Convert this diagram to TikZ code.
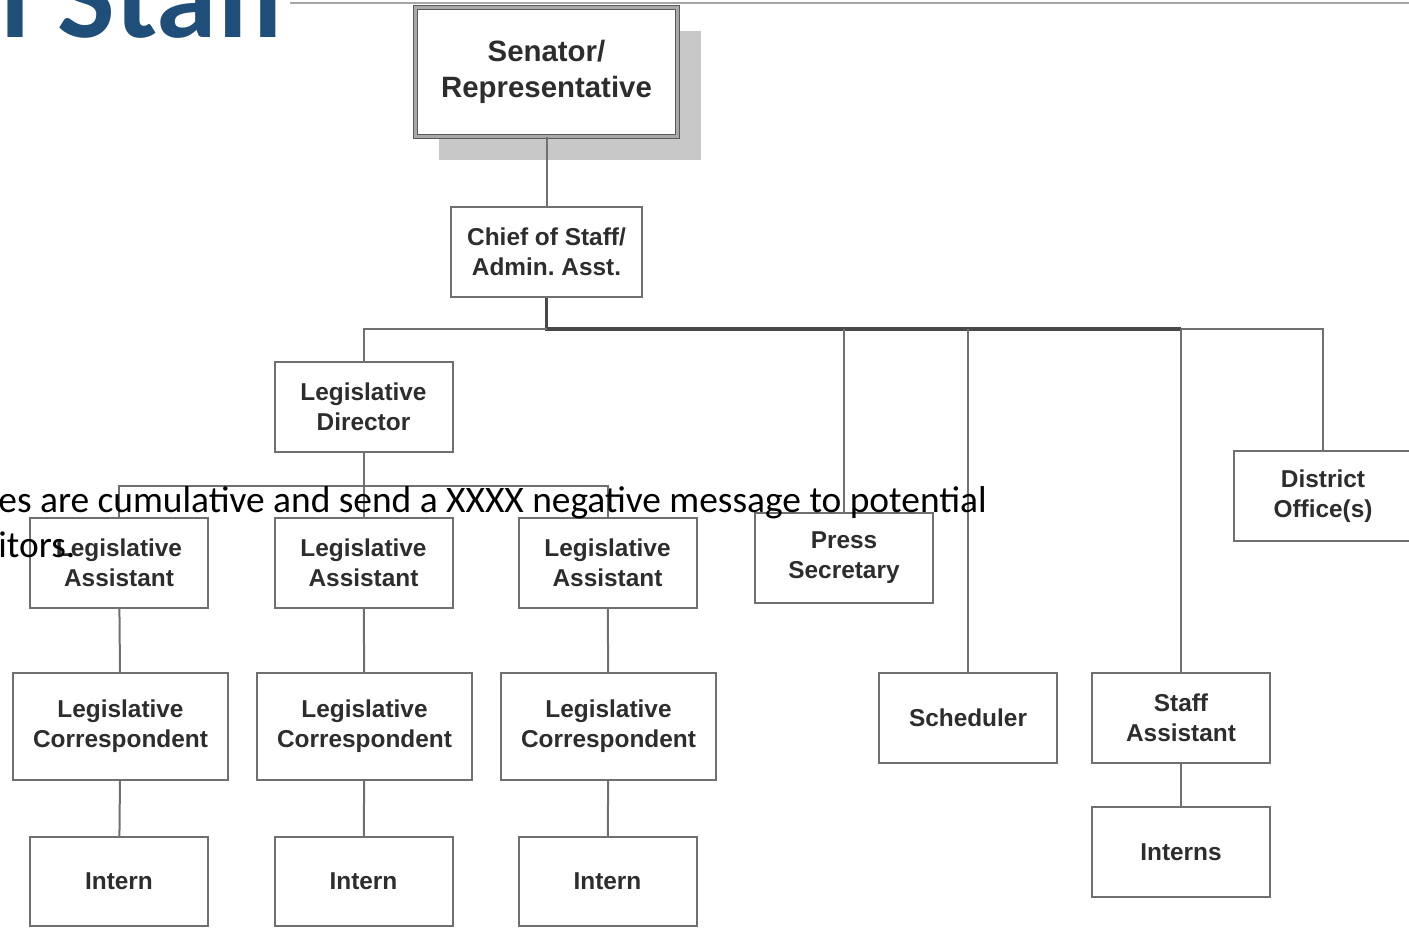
\documentclass[tikz,border=0pt]{standalone}
\usepackage{fontspec}
\newfontfamily\orgfont{Liberation Sans}
\newfontfamily\slidefont{Carlito}
\usetikzlibrary{shadows}
\definecolor{lineg}{RGB}{112,112,112}
\definecolor{textg}{RGB}{45,45,45}
\definecolor{titleblue}{RGB}{31,78,121}
\definecolor{shadowg}{RGB}{200,200,200}
\tikzset{
	box/.style={draw=lineg,line width=1pt,rectangle,align=center,minimum width=89pt,minimum height=45pt,inner sep=2pt,text=textg,font=\orgfont\bfseries\fontsize{12.2}{15}\selectfont},
	widebox/.style={box,minimum width=107.5pt,minimum height=53.5pt},
	topbox/.style={box,fill=white,draw=lineg!80!black,line width=0.6pt,double=lineg!60,double distance=1.6pt,minimum width=131pt,minimum height=64.5pt,font=\orgfont\bfseries\fontsize{14.7}{18}\selectfont,drop shadow={shadow xshift=11.5pt,shadow yshift=-11.5pt,fill=shadowg,opacity=1}},
	link/.style={draw=lineg,line width=1pt},
	trunk/.style={draw=lineg!65!black,line width=1.6pt}
}
\begin{document}
\begin{tikzpicture}[x=0.5pt,y=-0.5pt]
	\useasboundingbox (0,0) rectangle (1409,927);
	\begin{scope}
		\clip (0,0) rectangle (1409,927);
		% slide header
		\node[anchor=base west,inner sep=0pt,text=titleblue,font=\slidefont\bfseries\fontsize{61}{64}\selectfont] (title) at (0,37) {l Staff};
		\draw[gray!70,line width=1pt] (290,2.5) -- (1409,2.5);
		% top of the office
		\node[topbox] (senator) at (546.5,72) {Senator/\\Representative};
		\node[box,minimum width=95.5pt] (chief) at (546.5,252) {Chief of Staff/\\Admin.\ Asst.};
		\node[coordinate] (hub) at (546.5,329) {};
		% legislative side
		\node[box] (ld) at (363.5,407) {Legislative\\Director};
		\node[coordinate] (lhub) at (363.5,486) {};
		\node[box] (la1) at (119,562.5) {Legislative\\Assistant};
		\node[box] (la2) at (363.5,562.5) {Legislative\\Assistant};
		\node[box] (la3) at (607.5,562.5) {Legislative\\Assistant};
		\node[widebox] (lc1) at (120.5,726.5) {Legislative\\Correspondent};
		\node[widebox] (lc2) at (364.5,726.5) {Legislative\\Correspondent};
		\node[widebox] (lc3) at (608.5,726.5) {Legislative\\Correspondent};
		\node[box,minimum height=44.5pt] (in1) at (119,881.5) {Intern};
		\node[box,minimum height=44.5pt] (in2) at (363.5,881.5) {Intern};
		\node[box,minimum height=44.5pt] (in3) at (607.5,881.5) {Intern};
		% office side
		\node[box] (press) at (844,558) {Press\\Secretary};
		\node[box] (sched) at (968,718) {Scheduler};
		\node[box] (staff) at (1181,718) {Staff\\Assistant};
		\node[box] (interns) at (1181,852) {Interns};
		\node[box] (district) at (1323,496) {District\\Office(s)};
		% connectors
		\draw[link] (senator) -- (chief);
		\draw[trunk] (chief) -- (hub) -- (hub -| staff.north);
		\draw[link] (hub -| staff.north) -| (district);
		\draw[link] (hub) -| (ld);
		\draw[link] (hub -| press.north) -- (press);
		\draw[link] (hub -| sched.north) -- (sched);
		\draw[link] (hub -| staff.north) -- (staff);
		\draw[link] (staff) -- (interns);
		\draw[link] (ld) -- (lhub);
		\draw[link] (la1) |- (lhub) -| (la3);
		\draw[link] (lhub) -- (la2);
		\foreach \i in {1,2,3}
			\draw[link] (la\i) -- (lc\i) -- (in\i);
		% overlaid slide text
		\node[anchor=base west,inner sep=0pt,align=left,font=\slidefont\fontsize{18.7}{22.5}\selectfont] (note) at (-2,557) {es are cumulative and send a XXXX negative message to potential\\itors.};
	\end{scope}
\end{tikzpicture}
\end{document}
